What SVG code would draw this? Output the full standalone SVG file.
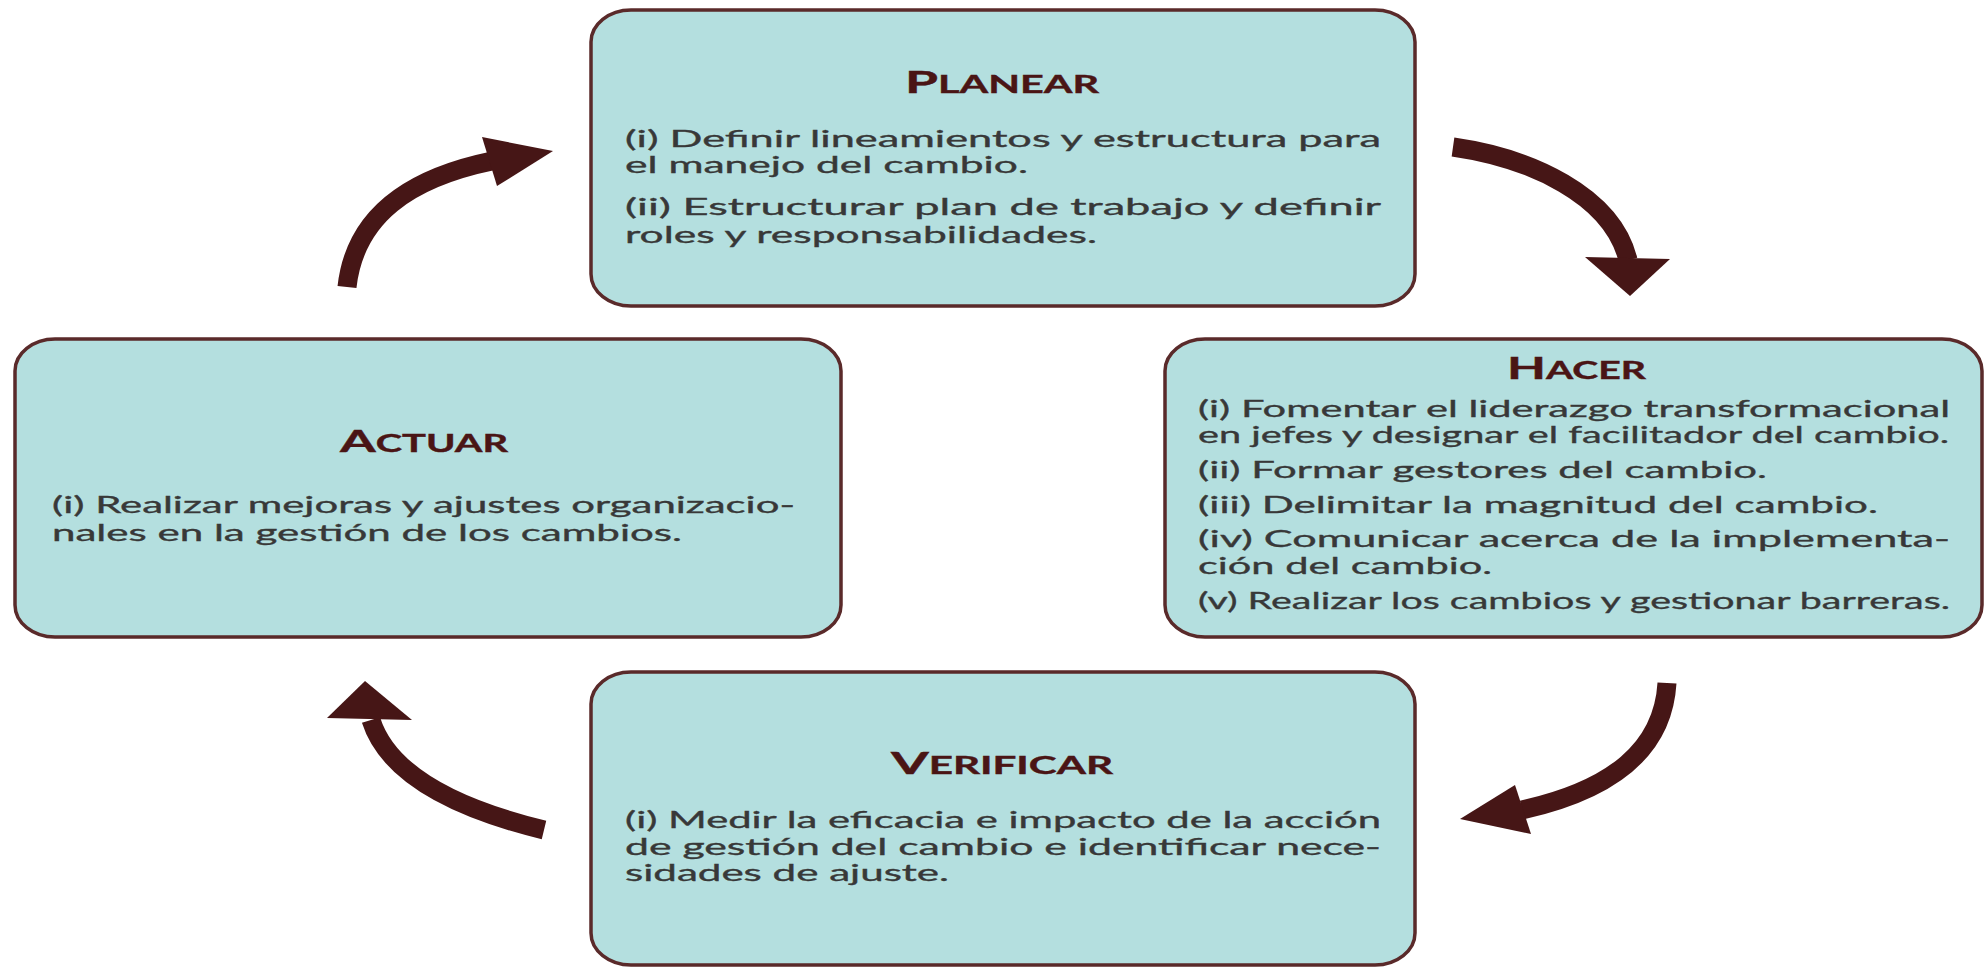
<svg xmlns="http://www.w3.org/2000/svg" width="1985" height="967" viewBox="0 0 1985 967">
<style>
.box{fill:#b4dfdf;stroke:#5a2a2a;stroke-width:3.5}
.title{font-family:"Lato","Open Sans","Liberation Sans",sans-serif;font-weight:bold;fill:#4a1515;stroke:#4a1515;stroke-width:0.4}
.big{font-size:31px}
.sm{font-size:24px}
.body{font-family:"Lato","Open Sans","Liberation Sans",sans-serif;font-size:24px;fill:#383838;stroke:#383838;stroke-width:0.35}
.shaft{fill:none;stroke:#461616;stroke-width:19}
.head{fill:#461616}
</style>
<rect width="1985" height="967" fill="#ffffff"/>
<g id="connectors">
<path class="shaft" d="M347,287 C355,215 410,178 492,161"/>
<polygon class="head" points="482,137 553,151 497,186"/>
<path class="shaft" d="M1453,147 C1530,158 1612,195 1628,260"/>
<polygon class="head" points="1585,257 1670,259 1630,296"/>
<path class="shaft" d="M1667,683 C1663,750 1612,790 1522,810"/>
<polygon class="head" points="1515,785 1531,834 1460,819"/>
<path class="shaft" d="M544,830 C470,812 390,780 371,720"/>
<polygon class="head" points="327,718 412,720 365,681"/>
</g>
<g id="planear">
<rect class="box" x="591" y="10" width="824" height="296" rx="40" ry="32"/>
<text class="title" x="905" y="93" textLength="194" lengthAdjust="spacingAndGlyphs"><tspan class="big">P</tspan><tspan class="sm">LANEAR</tspan></text>
<text class="body" x="625" y="147" textLength="756" lengthAdjust="spacingAndGlyphs">(i) Definir lineamientos y estructura para</text>
<text class="body" x="625" y="173" textLength="403" lengthAdjust="spacingAndGlyphs">el manejo del cambio.</text>
<text class="body" x="625" y="215" textLength="756" lengthAdjust="spacingAndGlyphs">(ii) Estructurar plan de trabajo y definir</text>
<text class="body" x="625" y="243" textLength="472" lengthAdjust="spacingAndGlyphs">roles y responsabilidades.</text>
</g>
<g id="hacer">
<rect class="box" x="1165" y="339" width="817" height="298" rx="40" ry="32"/>
<text class="title" x="1507" y="379" textLength="139" lengthAdjust="spacingAndGlyphs"><tspan class="big">H</tspan><tspan class="sm">ACER</tspan></text>
<text class="body" x="1198" y="417" textLength="752" lengthAdjust="spacingAndGlyphs">(i) Fomentar el liderazgo transformacional</text>
<text class="body" x="1198" y="443" textLength="751" lengthAdjust="spacingAndGlyphs">en jefes y designar el facilitador del cambio.</text>
<text class="body" x="1198" y="478" textLength="569" lengthAdjust="spacingAndGlyphs">(ii) Formar gestores del cambio.</text>
<text class="body" x="1198" y="513" textLength="680" lengthAdjust="spacingAndGlyphs">(iii) Delimitar la magnitud del cambio.</text>
<text class="body" x="1198" y="547" textLength="752" lengthAdjust="spacingAndGlyphs">(iv) Comunicar acerca de la implementa-</text>
<text class="body" x="1198" y="574" textLength="294" lengthAdjust="spacingAndGlyphs">ción del cambio.</text>
<text class="body" x="1198" y="609" textLength="752" lengthAdjust="spacingAndGlyphs">(v) Realizar los cambios y gestionar barreras.</text>
</g>
<g id="actuar">
<rect class="box" x="15" y="339" width="826" height="298" rx="40" ry="32"/>
<text class="title" x="340" y="452" textLength="168" lengthAdjust="spacingAndGlyphs"><tspan class="big">A</tspan><tspan class="sm">CTUAR</tspan></text>
<text class="body" x="52" y="513" textLength="743" lengthAdjust="spacingAndGlyphs">(i) Realizar mejoras y ajustes organizacio-</text>
<text class="body" x="52" y="541" textLength="630" lengthAdjust="spacingAndGlyphs">nales en la gestión de los cambios.</text>
</g>
<g id="verificar">
<rect class="box" x="591" y="672" width="824" height="293" rx="40" ry="32"/>
<text class="title" x="891" y="774" textLength="222" lengthAdjust="spacingAndGlyphs"><tspan class="big">V</tspan><tspan class="sm">ERIFICAR</tspan></text>
<text class="body" x="625" y="828" textLength="756" lengthAdjust="spacingAndGlyphs">(i) Medir la eficacia e impacto de la acción</text>
<text class="body" x="625" y="855" textLength="756" lengthAdjust="spacingAndGlyphs">de gestión del cambio e identificar nece-</text>
<text class="body" x="625" y="881" textLength="324" lengthAdjust="spacingAndGlyphs">sidades de ajuste.</text>
</g>
</svg>
